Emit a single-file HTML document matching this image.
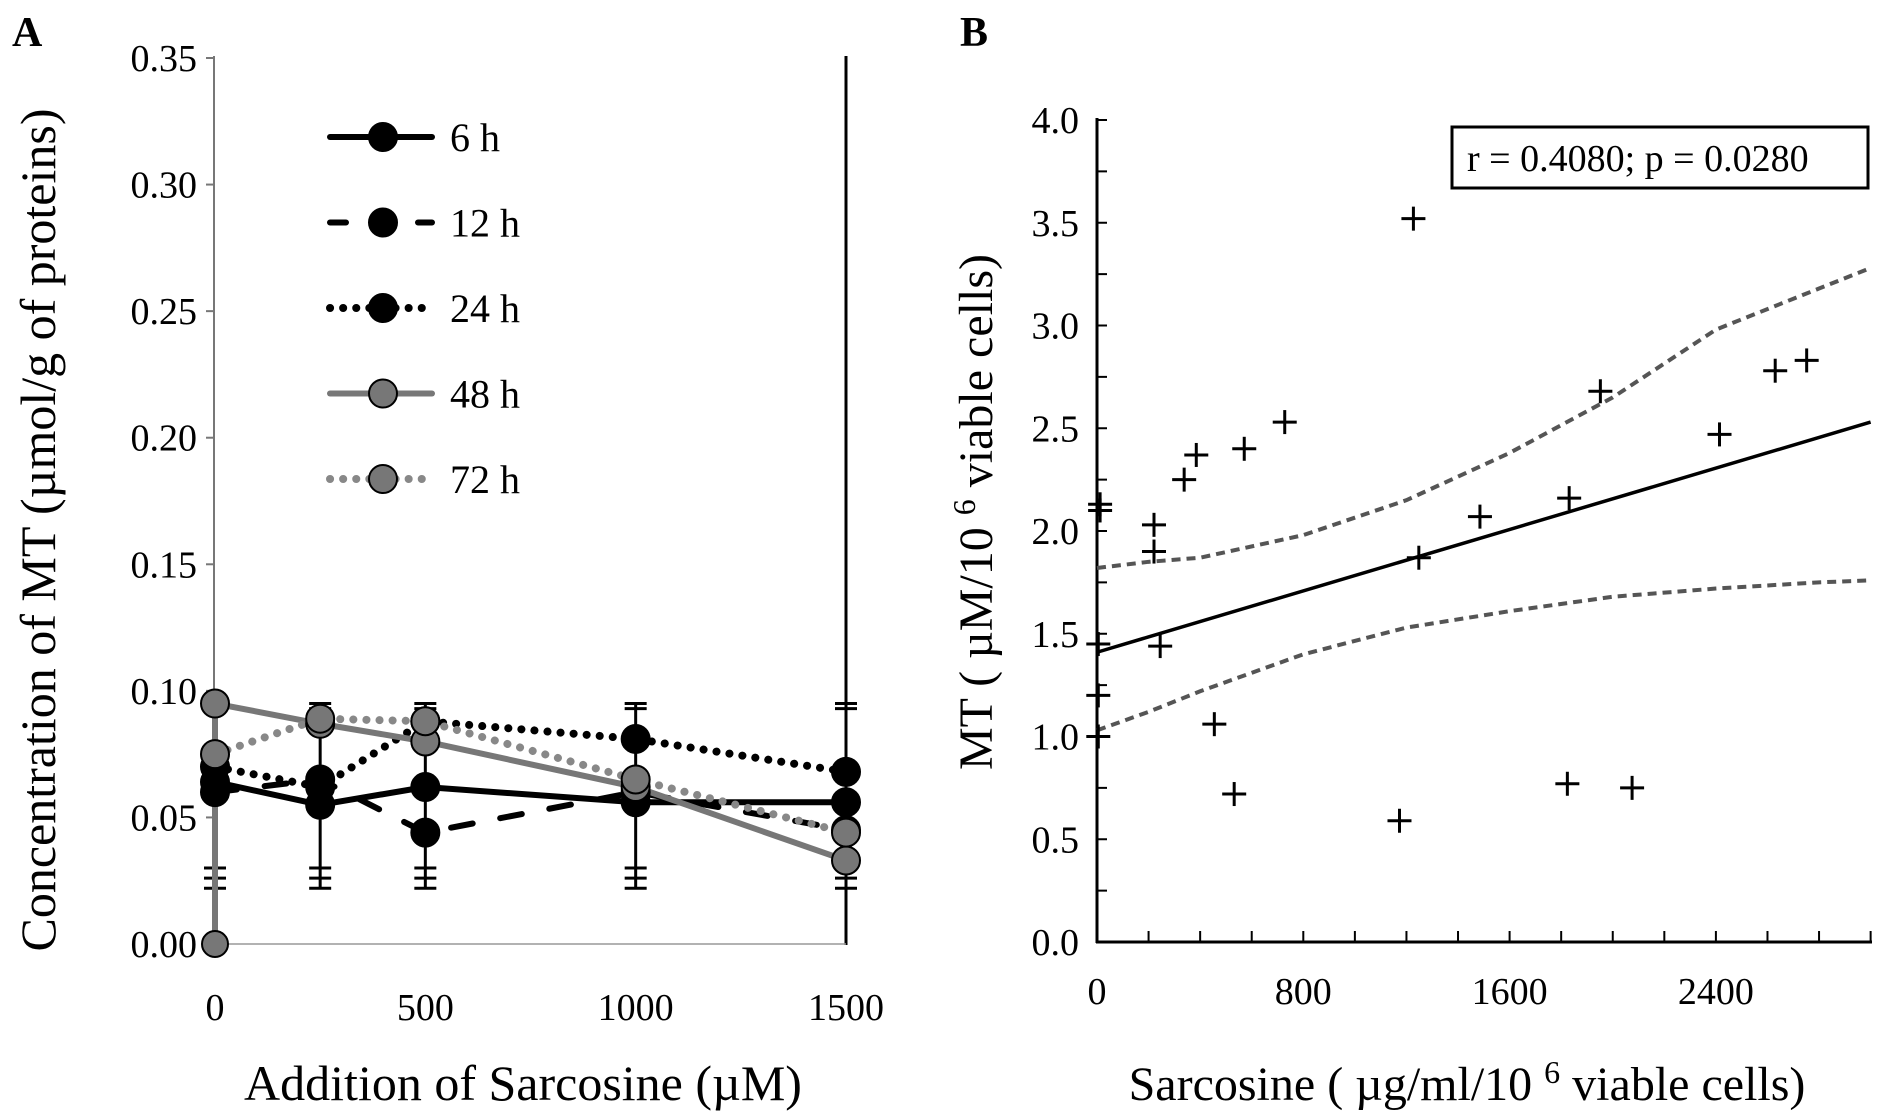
<!DOCTYPE html>
<html><head><meta charset="utf-8"><style>
html,body{margin:0;padding:0;background:#fff;}
svg{display:block;font-family:"Liberation Serif",serif;}
</style></head><body>
<svg id="fig" width="1886" height="1118" viewBox="0 0 1886 1118" xmlns="http://www.w3.org/2000/svg">
<text x="12" y="46" font-size="42" font-weight="bold">A</text>
<text x="960" y="46" font-size="42" font-weight="bold">B</text>
<g id="chartA"></g>
<g id="chartB"></g>
</svg>
<script>
// ---- Chart A data ----
const aXTicks = [0, 500, 1000, 1500];
const aYTicks = [0, 0.05, 0.10, 0.15, 0.20, 0.25, 0.30, 0.35];
const aYLabels = ["0.00","0.05","0.10","0.15","0.20","0.25","0.30","0.35"];
const aX = [0, 250, 500, 1000, 1500];
const s6 = [0.064, 0.055, 0.062, 0.056, 0.056];
const s12 = [0.060, 0.065, 0.044, 0.060, 0.045];
const s24 = [0.070, 0.062, 0.088, 0.081, 0.068];
const s48 = [0.095, 0.087, 0.080, 0.062, 0.033];
const s72 = [0.075, 0.089, 0.088, 0.065, 0.044];
const errHi = [0.095, 0.095, 0.095, 0.095, 0.095];
const errLo = [0.022, 0.022, 0.022, 0.022, 0.022];
const legendLabels = ["6 h","12 h","24 h","48 h","72 h"];

// ---- Chart B data ----
const bXTicks = [0, 800, 1600, 2400];
const bYTicks = [0, 0.5, 1.0, 1.5, 2.0, 2.5, 3.0, 3.5, 4.0];
const bPx = [12, 12, 221, 221, 245, 338, 385, 455, 532, 571, 728, 1173, 1227, 1248, 1485, 1824, 1831, 1952, 2075, 2414, 2630, 2752, 5, 5, 5];
const bPy = [2.13, 2.10, 2.03, 1.90, 1.44, 2.25, 2.37, 1.06, 0.72, 2.40, 2.53, 0.59, 3.52, 1.87, 2.07, 0.77, 2.16, 2.68, 0.75, 2.47, 2.78, 2.83, 1.45, 1.20, 1.00];
const fitX = [0, 3000];
const fitY = [1.41, 2.53];
const bandX = [0, 200, 400, 800, 1200, 1600, 2000, 2400, 2800, 3000];
const bandHi = [1.82, 1.85, 1.87, 1.98, 2.15, 2.38, 2.65, 2.98, 3.18, 3.28];
const bandLo = [1.03, 1.12, 1.22, 1.40, 1.53, 1.61, 1.68, 1.72, 1.75, 1.76];

const NS = "http://www.w3.org/2000/svg";
function mk(parent, tag, attrs, text) {
  const e = document.createElementNS(NS, tag);
  for (const k in attrs) e.setAttribute(k, attrs[k]);
  if (text !== undefined) e.textContent = text;
  parent.appendChild(e);
  return e;
}

// ---------- Chart A ----------
const A = document.getElementById('chartA');
const ax = v => 215 + v / 1500 * (846 - 215);
const ay = v => 944 - v / 0.35 * (944 - 58);
let el;
el = mk(A, 'line', {x1:214, y1:56, x2:214, y2:945, stroke:'#777', 'stroke-width':2});


el = mk(A, 'line', {x1:846, y1:56, x2:846, y2:945, stroke:'#000', 'stroke-width':3});


el = mk(A, 'line', {x1:214, y1:944, x2:846, y2:944, stroke:'#999', 'stroke-width':1.5});


aYTicks.forEach((v, i) => {
  mk(A, 'line', {x1:206, y1:ay(v), x2:214, y2:ay(v), stroke:'#777', 'stroke-width':2});
  el = mk(A, 'text', {x:197, y:ay(v) + 13, 'font-size':38, 'text-anchor':'end'}, aYLabels[i]);
  
  
});
aXTicks.forEach(v => {
  el = mk(A, 'text', {x:ax(v), y:1020, 'font-size':38, 'text-anchor':'middle'}, String(v));
  
  
});
el = mk(A, 'text', {x:0, y:0, 'font-size':50, 'text-anchor':'middle', transform:'translate(55,530) rotate(-90)'}, 'Concentration of MT (µmol/g of proteins)');


el = mk(A, 'text', {x:523, y:1100, 'font-size':50, 'text-anchor':'middle'}, 'Addition of Sarcosine (µM)');



aX.forEach((v, i) => {
  const x = ax(v);
  mk(A, 'line', {x1:x, y1:ay(errHi[i]), x2:x, y2:ay(errLo[i]), stroke:'#000', 'stroke-width':3});
  [errHi[i], errHi[i]-0.002, errLo[i], errLo[i]+0.004, errLo[i]+0.008].forEach(c => {
    mk(A, 'line', {x1:x-11, y1:ay(c), x2:x+11, y2:ay(c), stroke:'#000', 'stroke-width':3});
  });
});

const series = [
  {d:s6, color:'#000', dash:'', fill:'#000', name:'6h'},
  {d:s12, color:'#000', dash:'22 28', fill:'#000', name:'12h'},
  {d:s24, color:'#000', dash:'0.1 13', fill:'#000', name:'24h'},
  {d:s48, color:'#777', dash:'', fill:'#777', name:'48h'},
  {d:s72, color:'#888', dash:'0.1 13', fill:'#777', name:'72h'}
];
el = mk(A, 'line', {x1:ax(0), y1:ay(0), x2:ax(0), y2:ay(s48[0]), stroke:'#777', 'stroke-width':6});


series.forEach(s => {
  const pts = aX.map((v, i) => ax(v) + ',' + ay(s.d[i])).join(' ');
  el = mk(A, 'polyline', {points:pts, fill:'none', stroke:s.color, 'stroke-width':s.dash.startsWith('0.1') ? 8 : 6, 'stroke-dasharray':s.dash, 'stroke-linecap':'round'});
  
  
});
el = mk(A, 'circle', {cx:ax(0), cy:ay(0), r:13, fill:'#777', stroke:'#000', 'stroke-width':2});


series.forEach(s => {
  aX.forEach((v, i) => {
    el = mk(A, 'circle', {cx:ax(v), cy:ay(s.d[i]), r:14, fill:s.fill, stroke:'#000', 'stroke-width':2});
    
    
  });
});
legendLabels.forEach((lab, i) => {
  const y = 137 + i * 85.5, s = series[i];
  const g = mk(A, 'g', {});
  
  
  mk(g, 'line', {x1:330, y1:y, x2:432, y2:y, stroke:s.color, 'stroke-width':s.dash.startsWith('0.1') ? 8 : 6, 'stroke-dasharray':s.dash ? (s.dash.startsWith('0.1') ? '0.1 13' : '16 28') : '', 'stroke-linecap':'round'});
  mk(g, 'circle', {cx:383, cy:y, r:14, fill:s.fill, stroke:'#000', 'stroke-width':2});
  mk(g, 'text', {x:450, y:y + 14, 'font-size':40}, lab);
});

// ---------- Chart B ----------
const B = document.getElementById('chartB');
const bx = v => 1097 + v / 800 * 206.3;
const by = v => 942 - v / 4 * (942 - 120);
el = mk(B, 'line', {x1:1097, y1:118, x2:1097, y2:943, stroke:'#000', 'stroke-width':3});


el = mk(B, 'line', {x1:1096, y1:942, x2:1872, y2:942, stroke:'#000', 'stroke-width':3});


for (let v = 0; v <= 4.0001; v += 0.25) {
  mk(B, 'line', {x1:1097, y1:by(v), x2:1107, y2:by(v), stroke:'#000', 'stroke-width':2});
}
for (let v = 200; v <= 3000; v += 200) {
  mk(B, 'line', {x1:bx(v), y1:942, x2:bx(v), y2:931, stroke:'#000', 'stroke-width':2});
}
bYTicks.forEach(v => {
  el = mk(B, 'text', {x:1079, y:by(v) + 13, 'font-size':38, 'text-anchor':'end'}, v.toFixed(1));
  
  
});
bXTicks.forEach(v => {
  el = mk(B, 'text', {x:bx(v), y:1004, 'font-size':38, 'text-anchor':'middle'}, String(v));
  
  
});
el = mk(B, 'text', {x:0, y:0, 'font-size':48, 'text-anchor':'middle', transform:'translate(992,512) rotate(-90)'});


mk(el, 'tspan', {}, 'MT ( µM/10 ');
mk(el, 'tspan', {'font-size':32, dy:-17}, '6');
mk(el, 'tspan', {dy:17}, ' viable cells)');
el = mk(B, 'text', {x:1467, y:1100, 'font-size':48, 'text-anchor':'middle'});


mk(el, 'tspan', {}, 'Sarcosine ( µg/ml/10 ');
mk(el, 'tspan', {'font-size':32, dy:-17}, '6');
mk(el, 'tspan', {dy:17}, ' viable cells)');
[bandHi, bandLo].forEach((arr, k) => {
  const pts = bandX.map((v, i) => bx(v) + ',' + by(arr[i])).join(' ');
  el = mk(B, 'polyline', {points:pts, fill:'none', stroke:'#555', 'stroke-width':4, 'stroke-dasharray':'9 6'});
  
  
});
el = mk(B, 'line', {x1:bx(fitX[0]), y1:by(fitY[0]), x2:bx(fitX[1]), y2:by(fitY[1]), stroke:'#000', 'stroke-width':3.5});


bPx.forEach((v, i) => {
  const x = bx(v), y = by(bPy[i]);
  const g = mk(B, 'g', {stroke:'#000', 'stroke-width':3});
  
  
  mk(g, 'line', {x1:x-12, y1:y, x2:x+12, y2:y});
  mk(g, 'line', {x1:x, y1:y-12, x2:x, y2:y+12});
});
el = mk(B, 'rect', {x:1452, y:127, width:416, height:61, fill:'#fff', stroke:'#000', 'stroke-width':3});


el = mk(B, 'text', {x:1467, y:171, 'font-size':38}, 'r = 0.4080; p = 0.0280');


</script>
</body></html>
